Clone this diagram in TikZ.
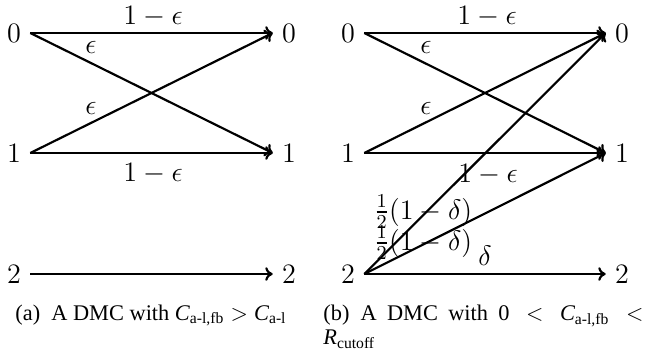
\documentclass[tikz,border=0pt]{standalone}
\usepackage{fix-cm}
\usepackage{amsmath}
\usepackage[no-math]{fontspec}
\setmainfont{Liberation Serif}
\usetikzlibrary{arrows.meta}
\begin{document}
\begin{tikzpicture}[x=0.4831pt,y=-0.4831pt,
  diag/.style={font=\fontsize{13.6}{16}\selectfont},
  insym/.style={diag,inner ysep=0pt,inner xsep=4.35pt},
  outsym/.style={diag,inner ysep=0pt,inner xsep=4.35pt},
  lbl/.style={diag,inner sep=0pt},
  chan/.style={line width=1.05pt,-{To[length=3.6pt,width=6.6pt]}},
  capt/.style={font=\fontsize{10.8}{11.6}\selectfont,inner sep=0pt}]
\useasboundingbox (0,0) rectangle (647,358);
% ---------- panel (a) ----------
\node[insym] (a0) at (14,33) {$0$};
\node[insym] (a1) at (14,153) {$1$};
\node[insym] (a2) at (14,274) {$2$};
\node[outsym] (c0) at (289,33) {$0$};
\node[outsym] (c1) at (289,153) {$1$};
\node[outsym] (c2) at (289,274) {$2$};
\draw[chan] (a0.east) -- (c0.west);
\draw[chan] (a0.east) -- (c1.west);
\draw[chan] (a1.east) -- (c0.west);
\draw[chan] (a1.east) -- (c1.west);
\draw[chan] (a2.east) -- (c2.west);
\node[lbl] (la1) at (153,17) {$1-\epsilon$};
\node[lbl] (la2) at (91,47) {$\epsilon$};
\node[lbl] (la3) at (91,108) {$\epsilon$};
\node[lbl] (la4) at (153,174) {$1-\epsilon$};
\node[capt,anchor=base] (capa) at (151,320) {(a)\enspace A DMC with $\textit{C}_{\text{a-l,fb}} > \textit{C}_{\text{a-l}}$};
% ---------- panel (b) ----------
\node[insym] (b0) at (348,33) {$0$};
\node[insym] (b1) at (348,153) {$1$};
\node[insym] (b2) at (348,274) {$2$};
\node[outsym] (d0) at (622,33) {$0$};
\node[outsym] (d1) at (622,153) {$1$};
\node[outsym] (d2) at (622,274) {$2$};
\draw[chan] (b0.east) -- (d0.west);
\draw[chan] (b0.east) -- (d1.west);
\draw[chan] (b1.east) -- (d0.west);
\draw[chan] (b1.east) -- (d1.west);
\draw[chan] (b2.east) -- (d0.west);
\draw[chan] (b2.east) -- (d1.west);
\draw[chan] (b2.east) -- (d2.west);
\node[lbl] (lb1) at (487,17) {$1-\epsilon$};
\node[lbl] (lb2) at (426,47) {$\epsilon$};
\node[lbl] (lb3) at (426,108) {$\epsilon$};
\node[lbl] (lb4) at (488,175) {$1-\epsilon$};
\node[lbl] (lb5) at (423,212) {$\frac{1}{2}(1-\delta)$};
\node[lbl] (lb6) at (423,243) {$\frac{1}{2}(1-\delta)$};
\node[lbl] (lb7) at (485,256) {$\delta$};
\node[capt,anchor=north west,text width=154.6pt,align=justify] (capb) at (323,305) {(b)\enspace A DMC with $\text{0} < \textit{C}_{\text{a-l,fb}} <$\linebreak$\textit{R}_{\text{cutoff}}$};
\end{tikzpicture}
\end{document}
